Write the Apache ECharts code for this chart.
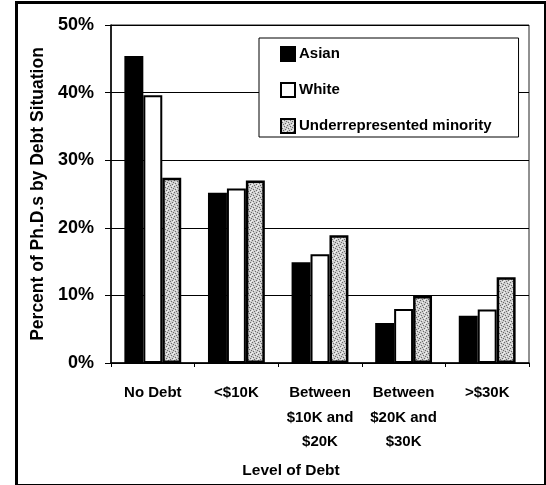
<!DOCTYPE html>
<html><head><meta charset="utf-8">
<script src="https://cdn.jsdelivr.net/npm/echarts@6/dist/echarts.min.js"></script>
<style>html,body{margin:0;padding:0;background:#fff}#c{width:546px;height:485px}</style>
</head><body><div id="c"></div>
<script>
const categories = ['No Debt', '<$10K', 'Between\n$10K and\n$20K', 'Between\n$20K and\n$30K', '>$30K'];
const asian = [45.4, 25.2, 14.9, 5.9, 7.0];
const white = [39.6, 25.8, 16.1, 8.0, 7.9];
const urm = [27.4, 27.0, 18.9, 9.9, 12.7];
const yTicks = [0, 10, 20, 30, 40, 50];

const FONT = '"Liberation Sans", Arial, Helvetica, sans-serif';

// stippled gray texture for the third series
const pc = document.createElement('canvas');
pc.width = 6; pc.height = 6;
const px = pc.getContext('2d');
px.fillStyle = '#cfcfcf'; px.fillRect(0, 0, 6, 6);
px.fillStyle = '#6a6a6a';
[[0,0],[3,1],[1,3],[4,4],[2,5],[5,2]].forEach(p => px.fillRect(p[0], p[1], 1, 1));
px.fillStyle = '#f2f2f2';
[[2,2],[5,5],[0,4],[4,0]].forEach(p => px.fillRect(p[0], p[1], 1, 1));

const chart = echarts.init(document.getElementById('c'), null, {renderer: 'canvas'});
chart.setOption({
  animation: false,
  textStyle: {fontFamily: FONT},
  graphic: [{
    type: 'rect', left: 14, top: 0, z: 100, silent: true,
    shape: {x: 0, y: 0, width: 529, height: 483},
    style: {fill: 'none', stroke: '#000', lineWidth: 3}
  }],
  grid: {left: 111, right: 17, top: 25, bottom: 122, show: true, borderColor: '#222', borderWidth: 1, backgroundColor: 'transparent'},
  legend: {
    orient: 'vertical', left: 259, top: 38,
    data: ['Asian', 'White', 'Underrepresented minority'],
    icon: 'rect', itemWidth: 14, itemHeight: 14, itemGap: 20,
    padding: [8, 27, 3, 21],
    borderColor: '#000', borderWidth: 1, backgroundColor: '#fff',
    textStyle: {fontFamily: FONT, fontSize: 15, fontWeight: 'bold', color: '#000', padding: [0, 0, 0, -1]}
  },
  xAxis: {
    type: 'category', data: categories,
    name: 'Level of Debt', nameLocation: 'middle', nameGap: 100,
    nameTextStyle: {fontFamily: FONT, fontSize: 15.5, fontWeight: 'bold', color: '#000', padding: [0, 58, 0, 0]},
    axisLine: {lineStyle: {color: '#000', width: 1.5}},
    axisTick: {show: true, length: 4, lineStyle: {color: '#000'}},
    axisLabel: {fontFamily: FONT, fontSize: 15, fontWeight: 'bold', color: '#000', margin: 18, lineHeight: 24.5, interval: 0}
  },
  yAxis: {
    type: 'value', min: yTicks[0], max: yTicks[yTicks.length - 1], interval: 10,
    name: 'Percent of Ph.D.s by Debt Situation', nameLocation: 'middle', nameGap: 63,
    nameTextStyle: {fontFamily: FONT, fontSize: 17.5, fontWeight: 'bold', color: '#000'},
    axisLine: {show: true, lineStyle: {color: '#000', width: 1.5}},
    axisTick: {show: true, length: 6, lineStyle: {color: '#000'}},
    axisLabel: {fontFamily: FONT, fontSize: 18, fontWeight: 'bold', color: '#000', margin: 17, formatter: v => v + '%'},
    splitLine: {show: true, lineStyle: {color: '#000', width: 1}}
  },
  series: [
    {name: 'Asian', type: 'bar', data: asian, barGap: '0%', barCategoryGap: '32%',
     itemStyle: {color: '#000', borderColor: '#000', borderWidth: 2}},
    {name: 'White', type: 'bar', data: white,
     itemStyle: {color: '#fff', borderColor: '#000', borderWidth: 2}},
    {name: 'Underrepresented minority', type: 'bar', data: urm,
     itemStyle: {color: {image: pc, repeat: 'repeat'}, borderColor: '#000', borderWidth: 2.5}}
  ]
});
</script></body></html>
